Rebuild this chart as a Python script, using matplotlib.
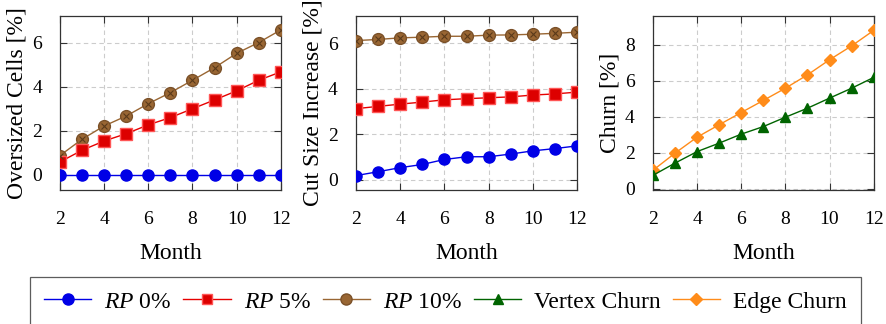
import matplotlib
matplotlib.use("Agg")
import matplotlib.pyplot as plt
from matplotlib.lines import Line2D

plt.rcParams['font.family'] = ['Liberation Serif', 'DejaVu Serif']
plt.rcParams['mathtext.fontset'] = 'custom'
plt.rcParams['mathtext.it'] = 'Liberation Serif:italic'
plt.rcParams['mathtext.rm'] = 'Liberation Serif'

months = [2, 3, 4, 5, 6, 7, 8, 9, 10, 11, 12]

# oversized cells [%]
over_rp0 = [0, 0, 0, 0, 0, 0, 0, 0, 0, 0, 0]
over_rp5 = [0.59, 1.12, 1.54, 1.87, 2.27, 2.60, 3.00, 3.40, 3.81, 4.29, 4.67]
over_rp10 = [0.88, 1.62, 2.22, 2.67, 3.23, 3.73, 4.29, 4.86, 5.51, 6.00, 6.57]

# cut size increase [%]
cut_rp0 = [0.19, 0.36, 0.54, 0.68, 0.90, 1.02, 1.02, 1.14, 1.28, 1.38, 1.50]
cut_rp5 = [3.13, 3.23, 3.33, 3.42, 3.52, 3.57, 3.61, 3.65, 3.73, 3.78, 3.86]
cut_rp10 = [6.12, 6.17, 6.24, 6.27, 6.31, 6.31, 6.36, 6.37, 6.40, 6.44, 6.49]

# churn [%]
vertex_churn = [0.75, 1.43, 2.07, 2.54, 3.04, 3.46, 3.98, 4.48, 5.04, 5.59, 6.19]
edge_churn = [1.03, 1.98, 2.87, 3.56, 4.24, 4.91, 5.59, 6.33, 7.17, 7.94, 8.80]

BLUE = '#0000e6'
RED = '#e60000'
BROWN = '#996633'
GREEN = '#006400'
ORANGE = '#ff8c1a'

TICK_FS = 14
LABEL_FS = 17

fig = plt.figure(figsize=(8.87, 3.24), dpi=100)
bottom, height = 0.4136, 0.537
ax1 = fig.add_axes([0.0676, bottom, 0.249, height])
ax2 = fig.add_axes([0.401, bottom, 0.250, height])
ax3 = fig.add_axes([0.736, bottom, 0.249, height])


def rp0(ax, y):
    ax.plot(months, y, color=BLUE, lw=1, marker='o', ms=8, mfc=BLUE, mec=BLUE, zorder=3)


def rp5(ax, y):
    ax.plot(months, y, color=RED, lw=1, marker='s', ms=8, mfc='#dd0000', mec='#ff5555', zorder=3)


def rp10(ax, y):
    ax.plot(months, y, color=BROWN, lw=1, marker='o', ms=8.5, mfc=BROWN, mec='#7a5028', zorder=3)
    ax.plot(months, y, ls='none', marker='x', ms=5, mec='#5a3a1a', mew=0.8, zorder=4)


rp10(ax1, over_rp10)
rp5(ax1, over_rp5)
rp0(ax1, over_rp0)
rp10(ax2, cut_rp10)
rp5(ax2, cut_rp5)
rp0(ax2, cut_rp0)
ax3.plot(months, edge_churn, color=ORANGE, lw=1, marker='D', ms=6, mfc=ORANGE, mec=ORANGE, zorder=3)
ax3.plot(months, vertex_churn, color=GREEN, lw=1, marker='^', ms=7.5, mfc=GREEN, mec=GREEN, zorder=3)

ax1.set_ylim(-0.68, 7.2)
ax2.set_ylim(-0.44, 7.2)
ax3.set_ylim(-0.06, 9.6)
ax1.set_yticks([0, 2, 4, 6])
ax2.set_yticks([0, 2, 4, 6])
ax3.set_yticks([0, 2, 4, 6, 8])
ax1.set_ylabel('Oversized Cells [%]', fontsize=LABEL_FS, labelpad=3)
ax2.set_ylabel('Cut Size Increase [%]', fontsize=LABEL_FS, labelpad=3)
ax3.set_ylabel('Churn [%]', fontsize=LABEL_FS, labelpad=3)

for ax in (ax1, ax2, ax3):
    ax.set_xlim(2, 12)
    ax.set_xticks([2, 4, 6, 8, 10, 12])
    ax.set_xlabel('Month', fontsize=LABEL_FS, labelpad=11)
    ax.grid(True, color='#cccccc', ls=(0, (4, 3)), lw=0.8)
    ax.set_axisbelow(True)
    ax.tick_params(direction='in', top=True, right=True, labelsize=TICK_FS, length=5,
                   width=0.8, color='#333333')
    ax.tick_params(axis='x', pad=15)
    ax.tick_params(axis='y', pad=13)
    for s in ax.spines.values():
        s.set_linewidth(0.9)
        s.set_color('#333333')

handles = [
    Line2D([], [], color=BLUE, lw=1, marker='o', ms=8, mfc=BLUE, mec=BLUE),
    Line2D([], [], color=RED, lw=1, marker='s', ms=7.5, mfc='#dd0000', mec='#ff5555'),
    Line2D([], [], color=BROWN, lw=1, marker='o', ms=8, mfc=BROWN, mec='#7a5028'),
    Line2D([], [], color=GREEN, lw=1, marker='^', ms=7, mfc=GREEN, mec=GREEN),
    Line2D([], [], color=ORANGE, lw=1, marker='D', ms=6, mfc=ORANGE, mec=ORANGE),
]
labels = [r'$\it{RP}$ 0%', r'$\it{RP}$ 5%', r'$\it{RP}$ 10%', 'Vertex Churn', 'Edge Churn']
leg = fig.legend(handles, labels, loc='upper center', bbox_to_anchor=(0.502, 0.145),
                 ncol=5, fontsize=LABEL_FS, frameon=True, fancybox=False,
                 edgecolor='#333333', handlelength=2.0, handletextpad=0.55,
                 columnspacing=0.5, borderpad=0.6, borderaxespad=0)
leg.get_frame().set_linewidth(0.9)

fig.savefig('out.png', dpi=100)
